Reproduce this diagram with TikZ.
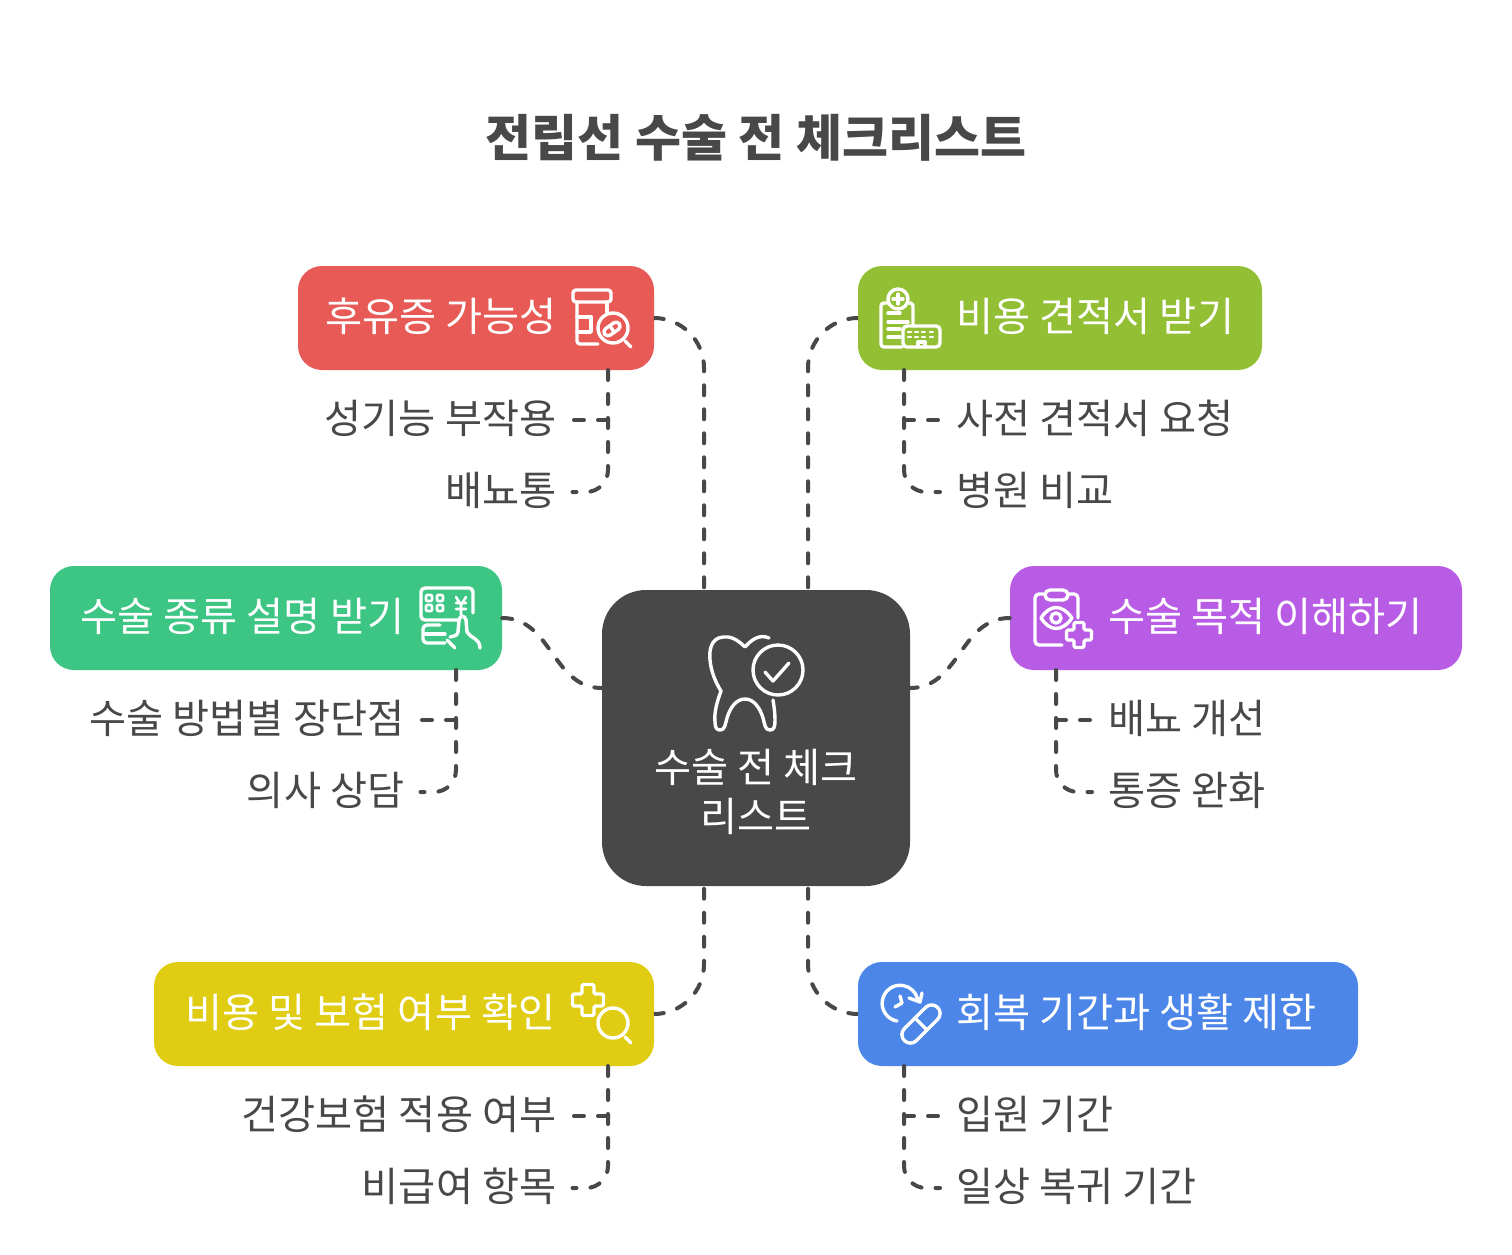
\documentclass[tikz,border=0pt]{standalone}
\usepackage{fontspec}
\setmainfont{Noto Sans CJK KR}
\usetikzlibrary{calc}
\definecolor{inkgray}{HTML}{484848}
\definecolor{cardred}{HTML}{E85A56}
\definecolor{cardolive}{HTML}{93BF35}
\definecolor{cardmint}{HTML}{3CC583}
\definecolor{cardviolet}{HTML}{B85CE5}
\definecolor{cardyellow}{HTML}{E0CC12}
\definecolor{cardblue}{HTML}{4C86E8}
\tikzset{
  card/.style={rounded corners=24pt, minimum height=104pt, inner sep=0pt, text=white, text height=33pt, text depth=6pt, align=flush left, font=\fontsize{40.3}{48}\selectfont},
  note/.style={inner xsep=16pt, inner ysep=0pt, text=inkgray, text height=33pt, text depth=6pt, font=\fontsize{40.3}{48}\selectfont},
  link/.style={inkgray, line width=4pt, line cap=round, dash pattern=on 10pt off 14pt},
  icon/.style={white, line width=3.4pt, line cap=round, line join=round}
}
\begin{document}
\begin{tikzpicture}[x=1pt, y=-1pt]
  \useasboundingbox (0,0) rectangle (1512,1254);
  % title
  \node[text=inkgray, font=\fontsize{50}{58}\selectfont\bfseries] (title) at (756,138) {전립선 수술 전 체크리스트};
  % hub
  \node[fill=inkgray, rounded corners=44pt, minimum width=308pt, minimum height=296pt] (hub) at (756,738) {};
  \node[text=white, align=center, inner sep=0pt, font=\fontsize{40.3}{48}\selectfont] (hubtext) at (756,792) {수술 전 체크\\[1pt]리스트};
  \coordinate (hubnw) at (704,590);
  \coordinate (hubne) at (808,590);
  \coordinate (hubsw) at (704,886);
  \coordinate (hubse) at (808,886);
  \coordinate (hubw) at (602,688);
  \coordinate (hube) at (910,688);
  % cards
  \node[card, fill=cardred, text width=356pt] (red) at (476,318) {\hspace*{27.5pt}후유증 가능성};
  \node[card, fill=cardolive, text width=404pt] (olive) at (1060,318) {\hspace*{98.5pt}비용 견적서 받기};
  \node[card, fill=cardmint, text width=452pt] (mint) at (276,618) {\hspace*{30.5pt}수술 종류 설명 받기};
  \node[card, fill=cardviolet, text width=452pt] (violet) at (1236,618) {\hspace*{98pt}수술 목적 이해하기};
  \node[card, fill=cardyellow, text width=500pt] (yellow) at (404,1014) {\hspace*{31.5pt}비용 및 보험 여부 확인};
  \node[card, fill=cardblue, text width=500pt] (blue) at (1108,1014) {\hspace*{98pt}회복 기간과 생활 제한};
  % notes
  \node[note, anchor=east] (reda) at (572.5,420) {성기능 부작용};
  \node[note, anchor=east] (redb) at (572.5,492) {배뇨통};
  \node[note, anchor=west] (olivea) at (940,420) {사전 견적서 요청};
  \node[note, anchor=west] (oliveb) at (940,492) {병원 비교};
  \node[note, anchor=east] (minta) at (420.5,720) {수술 방법별 장단점};
  \node[note, anchor=east] (mintb) at (420.5,792) {의사 상담};
  \node[note, anchor=west] (violeta) at (1092,720) {배뇨 개선};
  \node[note, anchor=west] (violetb) at (1092,792) {통증 완화};
  \node[note, anchor=east] (yellowa) at (572.5,1116) {건강보험 적용 여부};
  \node[note, anchor=east] (yellowb) at (572.5,1188) {비급여 항목};
  \node[note, anchor=west] (bluea) at (940,1116) {입원 기간};
  \node[note, anchor=west] (blueb) at (940,1188) {일상 복귀 기간};
  % stems
  \coordinate (redstem) at (608,370);
  \coordinate (olivestem) at (904,370);
  \coordinate (mintstem) at (456,670);
  \coordinate (violetstem) at (1056,670);
  \coordinate (yellowstem) at (608,1066);
  \coordinate (bluestem) at (904,1066);
  % lines
  \draw[link, rounded corners=50pt] (red.east) -| (hubnw);
  \draw[link, rounded corners=50pt] (olive.west) -| (hubne);
  \draw[link, rounded corners=50pt] (yellow.east) -| (hubsw);
  \draw[link, rounded corners=50pt] (blue.west) -| (hubse);
  \draw[link] (mint.east) to[out=0, in=180, looseness=1.05] (hubw);
  \draw[link] (violet.west) to[out=180, in=0, looseness=1.05] (hube);
  \draw[link, rounded corners=22pt] (redstem) |- (redb.east);
  \draw[link] (redstem |- reda.east) -- (reda.east);
  \draw[link, rounded corners=22pt] (olivestem) |- (oliveb.west);
  \draw[link] (olivestem |- olivea.west) -- (olivea.west);
  \draw[link, rounded corners=22pt] (mintstem) |- (mintb.east);
  \draw[link] (mintstem |- minta.east) -- (minta.east);
  \draw[link, rounded corners=22pt] (violetstem) |- (violetb.west);
  \draw[link] (violetstem |- violeta.west) -- (violeta.west);
  \draw[link, rounded corners=22pt] (yellowstem) |- (yellowb.east);
  \draw[link] (yellowstem |- yellowa.east) -- (yellowa.east);
  \draw[link, rounded corners=22pt] (bluestem) |- (blueb.west);
  \draw[link] (bluestem |- bluea.west) -- (bluea.west);
  % tooth icon
  \draw[icon] (778,670) circle (25);
  \draw[icon] (765,672) -- (773,681) -- (789,663);
  \draw[icon] (769,638) .. controls (760,634) and (752,639) .. (745,647)
    .. controls (737,639) and (730,636) .. (723,637)
    .. controls (711,638) and (709,650) .. (710,660)
    .. controls (711,672) and (716,683) .. (721,691)
    .. controls (717,702) and (714,712) .. (715,722)
    .. controls (715,728) and (717,730) .. (720,730)
    .. controls (725,730) and (725,725) .. (727,718)
    .. controls (730,708) and (736,699) .. (745,699)
    .. controls (754,699) and (760,708) .. (763,718)
    .. controls (765,725) and (765,730) .. (770,730)
    .. controls (774,730) and (775,727) .. (775,720)
    .. controls (775,713) and (774,706) .. (773,700);
  % red icon
  \draw[icon, rounded corners=3pt] (573,290) rectangle (611,302);
  \draw[icon, rounded corners=3pt] (577,302) -- (577,344) -- (598,344);
  \draw[icon] (607,302) -- (607,312);
  \draw[icon] (577,317) -- (591,317) -- (591,332) -- (577,332);
  \draw[icon] (613,328) circle (15);
  \draw[icon] (625,341) -- (631,347);
  \draw[icon, rotate around={35:(612,329)}, rounded corners=4pt] (603,325) rectangle (621,333);
  \draw[icon, rotate around={35:(612,329)}] (612,325) -- (612,333);
  % olive icon
  \draw[icon] (898,299) circle (10);
  \draw[icon] (893,299) -- (903,299) (898,294) -- (898,304);
  \draw[icon, rounded corners=3pt] (888,303) -- (881,303) -- (881,347) -- (902,347);
  \draw[icon, rounded corners=3pt] (908,303) -- (913,303) -- (913,325);
  \draw[icon] (888,313) -- (900,313) (888,322) -- (908,322) (888,329) -- (900,329) (888,337) -- (900,337);
  \draw[icon, rounded corners=4pt] (903,326) rectangle (940,347);
  \draw[icon, line width=2.4pt] (908,332) -- (911,332) (915,332) -- (918,332) (922,332) -- (925,332) (930,332) -- (933,332)
    (908,337) -- (911,337) (915,337) -- (918,337) (922,337) -- (925,337) (930,337) -- (933,337);
  \draw[icon] (918,347) -- (918,342) -- (925,342) -- (925,347);
  % mint icon
  \draw[icon, rounded corners=4pt] (458,620) -- (421,620) -- (421,588) -- (473,588) -- (473,613);
  \foreach \keyx in {429,440} {
    \foreach \keyy in {598,608} {
      \draw[icon, line width=2.6pt, rounded corners=1pt] (\keyx-3,\keyy-3) rectangle (\keyx+3,\keyy+3);
    }
  }
  \draw[icon, line width=2.6pt] (456,597) -- (461,605) -- (466,597) (461,605) -- (461,615) (456,603) -- (466,603) (456,609) -- (466,609);
  \draw[icon, rounded corners=4pt] (440,625) -- (423,625) -- (423,643) -- (445,643);
  \draw[icon] (425,634) -- (445,634);
  \draw[icon] (450,637) .. controls (454,636) and (457,636) .. (458,632) -- (459,620)
    .. controls (460,615) and (465,615) .. (466,620) -- (467,632)
    .. controls (470,638) and (480,638) .. (480,648);
  \draw[icon] (447,640) -- (455,648);
  % violet icon
  \draw[icon, rounded corners=4pt] (1045,594) -- (1035,594) -- (1035,645) -- (1062,645);
  \draw[icon, rounded corners=4pt] (1068,594) -- (1078,594) -- (1078,618);
  \draw[icon, rounded corners=5pt] (1045,590) rectangle (1068,600);
  \draw[icon] (1041,618) .. controls (1050,604) and (1062,604) .. (1072,618) .. controls (1062,632) and (1050,632) .. (1041,618) -- cycle;
  \draw[icon] (1056,618) circle (5);
  \draw[icon, rounded corners=1.5pt] (1074,622.5) -- ++(10,0) -- ++(0,7.5) -- ++(7.5,0) -- ++(0,10) -- ++(-7.5,0) -- ++(0,7.5) -- ++(-10,0) -- ++(0,-7.5) -- ++(-7.5,0) -- ++(0,-10) -- ++(7.5,0) -- cycle;
  % yellow icon
  \draw[icon, rounded corners=1.5pt] (582,984.5) -- ++(12,0) -- ++(0,9.5) -- ++(9.5,0) -- ++(0,12) -- ++(-9.5,0) -- ++(0,9.5) -- ++(-12,0) -- ++(0,-9.5) -- ++(-9.5,0) -- ++(0,-12) -- ++(9.5,0) -- cycle;
  \draw[icon] (613,1023) circle (15);
  \draw[icon] (625,1037) -- (631,1043);
  % blue icon
  \draw[icon] (897,1021) arc[start angle=100, end angle=345, radius=18];
  \draw[icon] (909,998) -- (920,1002) -- (922,993);
  \draw[icon] (900,996) -- (902,1003) -- (895,1007);
  \draw[icon, rotate around={45:(921,1024)}, rounded corners=8.5pt] (897.5,1015.5) rectangle (944.5,1032.5);
  \draw[icon, rotate around={45:(921,1024)}] (921,1015.5) -- (921,1032.5);
\end{tikzpicture}
\end{document}
